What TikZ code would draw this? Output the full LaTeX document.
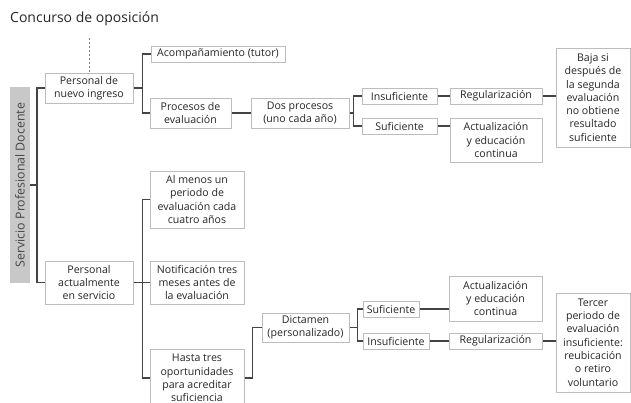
\documentclass[tikz,border=0pt]{standalone}
\usepackage{fontspec}
\setmainfont{Open Sans}
\definecolor{boxc}{HTML}{BDBDBD}
\definecolor{linec}{HTML}{444444}
\definecolor{txt}{HTML}{262626}
\definecolor{barc}{HTML}{C8C8C8}
\tikzset{
 box/.style={draw=boxc, line width=1pt, fill=white, inner sep=0pt, align=center, text=txt, font=\fontsize{10.6}{13.3}\selectfont},
 conn/.style={draw=linec, line width=1.1pt},
 dotline/.style={draw=gray, line width=1pt, dash pattern=on 2pt off 2pt},
}
\newcommand\bx[6]{\node[box, minimum width={#4pt-#2pt}, minimum height={#5pt-#3pt}] (#1) at ({(#2+#4)/2},{(#3+#5)/2}) {#6};}
\begin{document}
\begin{tikzpicture}[x=1pt,y=-1pt]
\useasboundingbox (0,0) rectangle (631,402);
\clip (0,0) rectangle (631,402);
\node[anchor=base west, inner sep=0pt, text=txt, font=\fontsize{14}{16}\selectfont] (title) at (10,22.5) {Concurso de oposición};
\node[fill=barc, rotate=90, minimum width=196pt, minimum height=20pt, inner sep=0pt, text=txt!85, font=\fontsize{12.4}{14}\selectfont] (bar) at (20,185) {Servicio Profesional Docente};
% top branch
\bx{n1}{45}{73}{133}{103}{Personal de\\nuevo ingreso}
\bx{acomp}{151}{46}{285}{62}{Acompañamiento (tutor)}
\bx{proc}{150}{98}{231}{128}{Procesos de\\evaluación}
\bx{dos}{251}{98}{349}{128}{Dos procesos\\(uno cada año)}
\bx{insufA}{362}{88}{437}{104}{Insuficiente}
\bx{sufA}{362}{118}{437}{134}{Suficiente}
\bx{regA}{450}{88}{542}{104}{Regularización}
\bx{actA}{450}{118}{542}{162}{Actualización\\y educación\\continua}
\bx{baja}{556}{48}{630}{147}{Baja si\\después de\\la segunda\\evaluación\\no obtiene\\resultado\\suficiente}
% bottom branch
\bx{n2}{45}{261}{133}{304}{Personal\\actualmente\\en servicio}
\bx{alm}{150}{171}{244}{228}{Al menos un\\periodo de\\evaluación cada\\cuatro años}
\bx{notif}{150}{261}{244}{304}{Notificación tres\\meses antes de\\la evaluación}
\bx{hasta}{150}{349}{244}{407}{Hasta tres\\oportunidades\\para acreditar\\suficiencia}
\bx{dict}{262}{313}{349}{342}{Dictamen\\(personalizado)}
\bx{sufB}{363}{301}{419}{317}{Suficiente}
\bx{insufB}{363}{333}{429}{349}{Insuficiente}
\bx{actB}{449}{276}{542}{321}{Actualización\\y educación\\continua}
\bx{regB}{449}{333}{542}{349}{Regularización}
\bx{tercer}{556}{293}{630}{392}{Tercer\\periodo de\\evaluación\\insuficiente:\\reubicación\\o retiro\\voluntario}
% connectors
\coordinate (dtop) at (89,38);
\draw[dotline] (dtop) -- (n1.north);
\coordinate (trunk) at (37,185);
\draw[conn] (bar.south) -- (trunk);
\draw[conn] (n1.west) -| (trunk) |- (n2.west);
\draw[conn] (n1.east) -- ++(9,0) coordinate (b1);
\draw[conn] (acomp.west) -| (b1) |- (proc.west);
\draw[conn] (proc.east) -- (dos.west);
\draw[conn] (dos.east) -- ++(4,0) coordinate (b2);
\draw[conn] (insufA.west) -| (b2) |- (sufA.west);
\draw[conn] (insufA.east) -- (regA.west);
\draw[conn] (regA.east) -- (regA.east -| baja.west);
\draw[conn] (sufA.east) -- (sufA.east -| actA.west);
\draw[conn] (n2.east) -- ++(9,0) coordinate (b3);
\draw[conn] (alm.west) -| (b3) |- (hasta.west);
\draw[conn] (b3) -- (notif.west);
\draw[conn] (hasta.east) -- ++(8,0) |- (dict.west);
\draw[conn] (dict.east) -- ++(8,0) coordinate (b4);
\draw[conn] (sufB.west) -| (b4) |- (insufB.west);
\draw[conn] (sufB.east) -- (sufB.east -| actB.west);
\draw[conn] (insufB.east) -- (regB.west);
\draw[conn] (regB.east) -- (regB.east -| tercer.west);
\end{tikzpicture}
\end{document}
